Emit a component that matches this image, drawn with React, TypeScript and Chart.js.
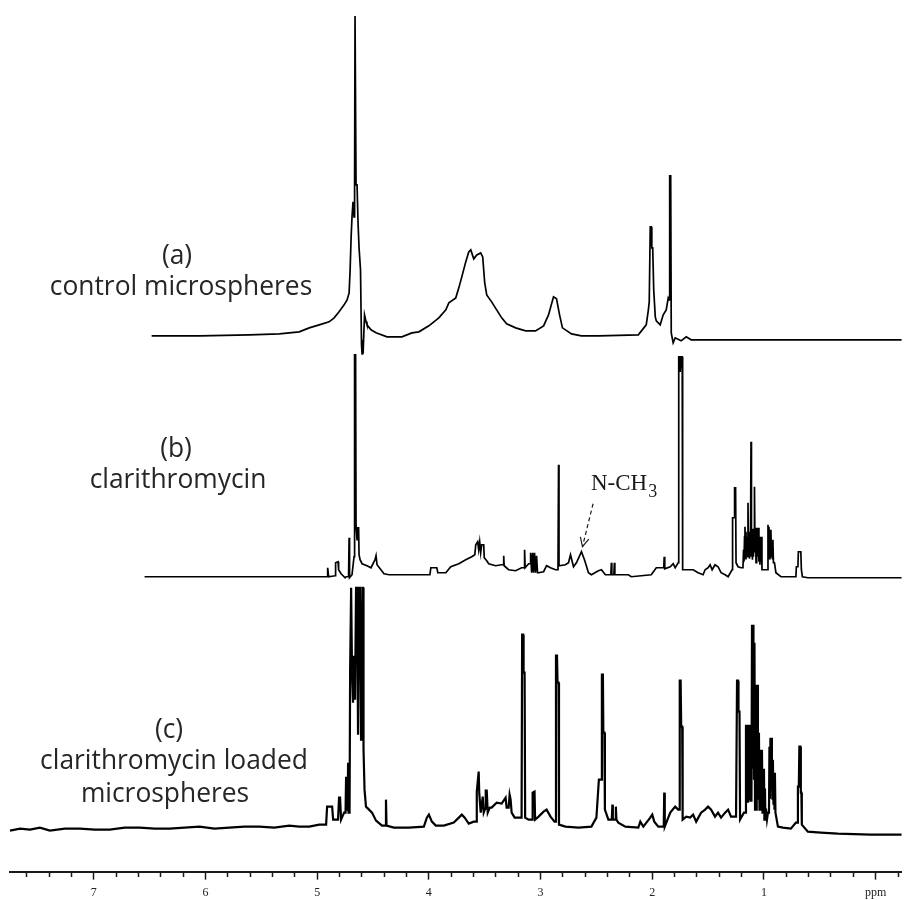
import React, { useEffect, useRef } from 'react';
import { Chart, registerables } from 'chart.js';
Chart.register(...registerables);

// ---- data: [chemical shift (ppm), intensity above the trace's own baseline] ----
const TRACE_A: [number, number][] = [
  [6.482, 0], [6.054, 0], [5.607, 1], [5.339, 2], [5.161, 4], [5.071, 8], [4.982, 11], [4.893, 14], [4.848, 18],
  [4.804, 24], [4.759, 31], [4.732, 36], [4.714, 43], [4.705, 66], [4.696, 99], [4.688, 119], [4.679, 134],
  [4.670, 119], [4.665, 151], [4.661, 320], [4.656, 320], [4.652, 151], [4.643, 151], [4.634, 113], [4.625, 88],
  [4.612, 66], [4.603, -9], [4.598, -18], [4.594, -4], [4.589, -18], [4.585, -18], [4.576, 21], [4.562, 14],
  [4.554, 11], [4.518, 6], [4.473, 3], [4.375, -1], [4.241, -1], [4.152, 3], [4.089, 4], [4.000, 10], [3.911, 18],
  [3.848, 26], [3.821, 33], [3.759, 38], [3.732, 48], [3.705, 59], [3.670, 74], [3.643, 84], [3.625, 86],
  [3.598, 77], [3.571, 81], [3.536, 83], [3.518, 79], [3.500, 53], [3.482, 41], [3.438, 34], [3.393, 26],
  [3.348, 18], [3.304, 12], [3.223, 8], [3.134, 5], [3.045, 5], [2.973, 10], [2.929, 21], [2.884, 39],
  [2.857, 37], [2.830, 21], [2.804, 8], [2.723, 2], [2.634, 0], [2.482, 0], [2.125, 1], [2.054, 11], [2.036, 25],
  [2.027, 34], [2.018, 109], [2.009, 109], [2.004, 88], [1.996, 88], [1.987, 46], [1.973, 19], [1.964, 15],
  [1.929, 11], [1.902, 21], [1.875, 26], [1.857, 38], [1.848, 36], [1.844, 160], [1.835, 160], [1.830, 3],
  [1.813, -7], [1.795, -2], [1.741, -5], [1.696, -1], [1.652, -4], [1.589, -4], [-0.232, -4],
];

const TRACE_B: [number, number][] = [
  [6.545, 0], [5.161, 0], [4.911, 0], [4.906, 9], [4.897, 0], [4.839, 1], [4.835, 14], [4.813, 15], [4.808, 7],
  [4.786, 3], [4.768, 1], [4.750, -1], [4.741, 0], [4.719, 0], [4.714, 39], [4.710, -1], [4.688, 2], [4.670, 20],
  [4.665, 222], [4.656, 222], [4.652, 52], [4.643, 37], [4.638, 49], [4.629, 49], [4.625, 22], [4.616, 17],
  [4.598, 13], [4.554, 11], [4.518, 9], [4.482, 17], [4.473, 21], [4.464, 12], [4.429, 7], [4.402, 3], [4.357, 2],
  [4.089, 2], [3.991, 2], [3.982, 9], [3.929, 9], [3.920, 4], [3.848, 4], [3.804, 10], [3.732, 13], [3.670, 17],
  [3.616, 20], [3.589, 22], [3.580, 32], [3.563, 35], [3.554, 27], [3.545, 35], [3.536, 24], [3.527, 32],
  [3.509, 32], [3.504, 19], [3.482, 16], [3.464, 13], [3.402, 11], [3.348, 12], [3.335, 12], [3.330, 21],
  [3.326, 11], [3.286, 7], [3.223, 6], [3.170, 9], [3.147, 9], [3.143, 27], [3.138, 9], [3.107, 13], [3.094, 13],
  [3.089, 24], [3.080, 4], [3.071, 24], [3.063, 4], [3.054, 24], [3.045, 4], [3.036, 21], [3.027, 4], [3.018, 4],
  [2.973, 5], [2.946, 11], [2.911, 9], [2.866, 7], [2.844, 7], [2.839, 112], [2.835, 11], [2.777, 12], [2.750, 14],
  [2.732, 22], [2.705, 10], [2.679, 14], [2.634, 25], [2.607, 17], [2.571, 4], [2.545, 2], [2.482, 6], [2.455, 7],
  [2.420, 2], [2.371, 2], [2.366, 14], [2.362, 2], [2.344, 2], [2.339, 14], [2.335, 2], [2.214, 2], [2.188, 0],
  [2.009, 2], [1.964, 9], [1.920, 9], [1.897, 9], [1.893, 20], [1.888, 8], [1.839, 10], [1.813, 13], [1.795, 9],
  [1.768, 14], [1.763, 220], [1.754, 220], [1.750, 205], [1.741, 220], [1.732, 220], [1.728, 7], [1.679, 7],
  [1.634, 7], [1.589, 4], [1.545, 2], [1.527, 7], [1.500, 9], [1.482, 12], [1.464, 7], [1.438, 12], [1.411, 10],
  [1.384, 4], [1.348, 2], [1.321, 0], [1.286, 7], [1.281, 59], [1.268, 59], [1.263, 89], [1.254, 89], [1.250, 14],
  [1.232, 10], [1.205, 9], [1.188, 9], [1.183, 27], [1.179, 15], [1.174, 40], [1.170, 50], [1.165, 18], [1.161, 45],
  [1.156, 22], [1.152, 40], [1.147, 20], [1.143, 74], [1.138, 25], [1.134, 45], [1.129, 18], [1.125, 40],
  [1.121, 20], [1.116, 135], [1.112, 20], [1.107, 45], [1.103, 17], [1.098, 48], [1.094, 20], [1.089, 45],
  [1.085, 90], [1.080, 25], [1.076, 49], [1.071, 14], [1.067, 49], [1.063, 18], [1.058, 49], [1.054, 20],
  [1.049, 49], [1.045, 15], [1.040, 40], [1.036, 12], [1.031, 40], [1.027, 15], [1.022, 40], [1.018, 7],
  [0.991, 7], [0.969, 7], [0.964, 52], [0.960, 20], [0.955, 50], [0.951, 18], [0.946, 47], [0.942, 20],
  [0.938, 47], [0.933, 22], [0.929, 37], [0.924, 18], [0.920, 37], [0.915, 14], [0.906, 14], [0.893, 4],
  [0.848, 0], [0.714, 0], [0.710, 10], [0.696, 10], [0.692, 25], [0.670, 25], [0.665, 7], [0.656, 0],
  [0.607, -1], [-0.232, -1],
];

const TRACE_C: [number, number][] = [
  [7.750, -2], [7.661, 0], [7.571, -1], [7.482, 1], [7.393, -2], [7.259, 0], [7.125, 0], [6.991, -1], [6.857, -1],
  [6.723, 1], [6.589, 1], [6.455, 0], [6.321, 0], [6.188, 1], [6.054, 2], [5.920, 0], [5.786, 1], [5.652, 2],
  [5.518, 2], [5.384, 1], [5.250, 3], [5.161, 2], [5.071, 2], [4.982, 4], [4.920, 4], [4.911, 22], [4.866, 22],
  [4.857, 9], [4.813, 9], [4.804, 31], [4.795, 31], [4.786, 9], [4.759, 16], [4.746, 16], [4.741, 52], [4.737, 19],
  [4.728, 19], [4.723, 66], [4.719, 16], [4.710, 16], [4.705, 157], [4.696, 241], [4.692, 241], [4.688, 157],
  [4.679, 126], [4.670, 173], [4.661, 129], [4.652, 241], [4.643, 241], [4.634, 94], [4.625, 241], [4.616, 241],
  [4.607, 89], [4.603, 129], [4.594, 241], [4.589, 241], [4.585, 79], [4.576, 39], [4.563, 22], [4.536, 19],
  [4.509, 16], [4.473, 8], [4.420, 3], [4.388, 3], [4.384, 29], [4.379, 3], [4.313, 1], [4.179, 1], [4.045, 2],
  [4.018, 11], [4.000, 14], [3.973, 7], [3.938, 3], [3.866, 3], [3.777, 6], [3.732, 11], [3.705, 14], [3.679, 11],
  [3.643, 5], [3.598, 7], [3.576, 7], [3.571, 37], [3.554, 57], [3.549, 36], [3.536, 16], [3.518, 32], [3.509, 16],
  [3.496, 20], [3.491, 38], [3.482, 38], [3.473, 16], [3.455, 21], [3.438, 21], [3.393, 26], [3.348, 25],
  [3.313, 31], [3.304, 21], [3.286, 21], [3.277, 34], [3.268, 29], [3.259, 16], [3.232, 11], [3.170, 11],
  [3.165, 194], [3.156, 194], [3.152, 156], [3.143, 156], [3.138, 11], [3.107, 9], [3.076, 9], [3.071, 36],
  [3.054, 37], [3.049, 9], [3.018, 12], [2.973, 17], [2.946, 19], [2.911, 12], [2.875, 7], [2.866, 7], [2.862, 173],
  [2.853, 173], [2.848, 146], [2.839, 146], [2.835, 4], [2.777, 2], [2.661, 1], [2.545, 2], [2.500, 11],
  [2.478, 49], [2.455, 49], [2.451, 154], [2.442, 154], [2.438, 96], [2.429, 96], [2.424, 19], [2.393, 9],
  [2.362, 9], [2.357, 24], [2.353, 9], [2.330, 9], [2.326, 22], [2.321, 9], [2.304, 6], [2.241, 2], [2.125, 1],
  [2.107, 7], [2.080, 2], [2.018, 11], [2.000, 14], [1.982, 7], [1.946, 2], [1.897, 2], [1.893, 36], [1.888, 2],
  [1.839, 16], [1.795, 22], [1.768, 19], [1.759, 19], [1.754, 148], [1.746, 148], [1.741, 102], [1.732, 102],
  [1.728, 9], [1.696, 12], [1.661, 11], [1.634, 14], [1.607, 7], [1.563, 16], [1.527, 19], [1.500, 22], [1.473, 19],
  [1.438, 12], [1.411, 16], [1.384, 11], [1.348, 16], [1.321, 19], [1.295, 12], [1.250, 12], [1.241, 148],
  [1.232, 148], [1.228, 117], [1.219, 117], [1.214, 9], [1.179, 16], [1.165, 16], [1.161, 104], [1.156, 40],
  [1.152, 104], [1.147, 27], [1.143, 90], [1.138, 30], [1.134, 104], [1.129, 35], [1.125, 104], [1.121, 27],
  [1.116, 80], [1.112, 27], [1.107, 204], [1.103, 60], [1.098, 204], [1.094, 186], [1.089, 50], [1.085, 186],
  [1.080, 19], [1.076, 70], [1.071, 19], [1.067, 144], [1.063, 40], [1.058, 144], [1.054, 96], [1.049, 30],
  [1.045, 96], [1.040, 19], [1.036, 60], [1.031, 19], [1.027, 79], [1.022, 20], [1.018, 79], [1.013, 16],
  [1.009, 50], [1.004, 16], [1.000, 60], [0.996, 9], [0.991, 40], [0.987, 9], [0.982, 20], [0.973, 9],
  [0.964, 16], [0.955, 16], [0.951, 82], [0.946, 30], [0.942, 91], [0.938, 40], [0.933, 91], [0.929, 69],
  [0.924, 30], [0.920, 69], [0.915, 25], [0.911, 56], [0.906, 20], [0.902, 56], [0.897, 16], [0.875, 2],
  [0.830, 1], [0.759, 0], [0.714, 6], [0.701, 6], [0.696, 42], [0.688, 42], [0.683, 82], [0.674, 82],
  [0.670, 36], [0.665, 36], [0.661, 4], [0.607, -3], [0.491, -4], [0.339, -5], [0.045, -6], [-0.232, -6],
];

const MAJOR_TICKS = [0, 1, 2, 3, 4, 5, 6, 7];
const MAJOR_LABELS = ['ppm', '1', '2', '3', '4', '5', '6', '7'];

// N-CH3 annotation arrow on trace b: [tail, tip] as (ppm, intensity)
const ARROW_PPM = [2.53, 2.625];
const ARROW_INT = [73, 30];

// vertical stacking offsets of the three traces
const OFFSET_A = 536;
const OFFSET_B = 295;
const OFFSET_C = 43;

const toPoints = (trace: [number, number][], off: number) => trace.map(([p, v]) => ({ x: p, y: v + off }));

const majorIndex = (v: number) => MAJOR_TICKS.findIndex((m) => Math.abs(m - v) < 1e-6);

const annotations = {
  id: 'nmrAnnotations',
  afterDatasetsDraw(chart: any) {
    const { ctx, scales } = chart;
    const xs = scales.x;
    const ys = scales.y;
    ctx.save();
    ctx.font = '100px "Open Sans"';
    const ref = ctx.measureText('clarithromycin loaded').width;
    const size = (100 * 268) / ref;
    ctx.font = `${size}px "Open Sans"`;
    ctx.fillStyle = '#262626';
    ctx.textAlign = 'center';
    ctx.textBaseline = 'alphabetic';
    const labels = [
      { t: '(a)', x: 177, y: 264 },
      { t: 'control microspheres', x: 181, y: 295 },
      { t: '(b)', x: 176, y: 457 },
      { t: 'clarithromycin', x: 178, y: 488 },
      { t: '(c)', x: 169, y: 738 },
      { t: 'clarithromycin loaded', x: 174, y: 769 },
      { t: 'microspheres', x: 165, y: 802 },
    ];
    labels.forEach((l) => ctx.fillText(l.t, l.x, l.y));

    ctx.fillStyle = '#1a1a1a';
    ctx.textAlign = 'left';
    ctx.font = '23px "Liberation Serif"';
    ctx.fillText('N-CH', 591, 490);
    const w = ctx.measureText('N-CH').width;
    ctx.font = '18px "Liberation Serif"';
    ctx.fillText('3', 591 + w + 1, 497);

    const x1 = xs.getPixelForValue(ARROW_PPM[0]);
    const y1 = ys.getPixelForValue(ARROW_INT[0] + OFFSET_B);
    const x2 = xs.getPixelForValue(ARROW_PPM[1]);
    const y2 = ys.getPixelForValue(ARROW_INT[1] + OFFSET_B);
    ctx.strokeStyle = '#1a1a1a';
    ctx.lineWidth = 1.2;
    ctx.setLineDash([4, 3]);
    ctx.beginPath();
    ctx.moveTo(x1, y1);
    ctx.lineTo(x2, y2);
    ctx.stroke();
    ctx.setLineDash([]);
    const ang = Math.atan2(y2 - y1, x2 - x1);
    const hl = 10;
    ctx.beginPath();
    ctx.moveTo(x2 - hl * Math.cos(ang - 0.45), y2 - hl * Math.sin(ang - 0.45));
    ctx.lineTo(x2, y2);
    ctx.lineTo(x2 - hl * Math.cos(ang + 0.45), y2 - hl * Math.sin(ang + 0.45));
    ctx.stroke();
    ctx.restore();
  },
};

export default function App() {
  const ref = useRef<HTMLCanvasElement>(null);
  useEffect(() => {
    const line = (data: any[], width: number) => ({
      data,
      borderColor: '#000',
      borderWidth: width,
      pointRadius: 0,
      tension: 0,
      fill: false,
      clip: false as any,
    });
    const chart = new Chart(ref.current as HTMLCanvasElement, {
      type: 'line',
      data: {
        datasets: [
          line(toPoints(TRACE_A, OFFSET_A), 1.7),
          line(toPoints(TRACE_B, OFFSET_B), 1.7),
          line(toPoints(TRACE_C, OFFSET_C), 2.2),
        ] as any,
      },
      options: {
        animation: false,
        responsive: false,
        devicePixelRatio: 1,
        layout: { padding: { left: 10, right: 0, top: 0, bottom: -6 } },
        plugins: { legend: { display: false }, tooltip: { enabled: false } },
        scales: {
          x: {
            type: 'linear',
            reverse: true,
            min: -0.232,
            max: 7.75,
            border: { display: true, color: '#1a1a1a', width: 2 },
            grid: {
              display: true,
              drawOnChartArea: false,
              drawTicks: true,
              tickLength: 8,
              tickWidth: 1.5,
              tickColor: '#1a1a1a',
              tickBorderDash: (c: any) => (majorIndex(c.tick ? c.tick.value : 0.1) >= 0 ? [] : [4, 20]),
            } as any,
            ticks: {
              stepSize: 0.2,
              includeBounds: false,
              autoSkip: false,
              maxRotation: 0,
              minRotation: 0,
              padding: 6,
              color: '#222',
              font: { family: '"Liberation Serif", serif', size: 12 },
              callback: (v: any) => {
                const i = majorIndex(Number(v));
                return i >= 0 ? MAJOR_LABELS[i] : '';
              },
            },
          },
          y: { display: false, min: 0, max: 872 },
        },
      },
      plugins: [annotations],
    });
    return () => chart.destroy();
  }, []);
  return (
    <div style={{ position: 'absolute', left: 0, top: 0, width: 904, height: 900, background: '#fff' }}>
      <canvas ref={ref} width={904} height={900} style={{ width: 904, height: 900, display: 'block' }} />
    </div>
  );
}
